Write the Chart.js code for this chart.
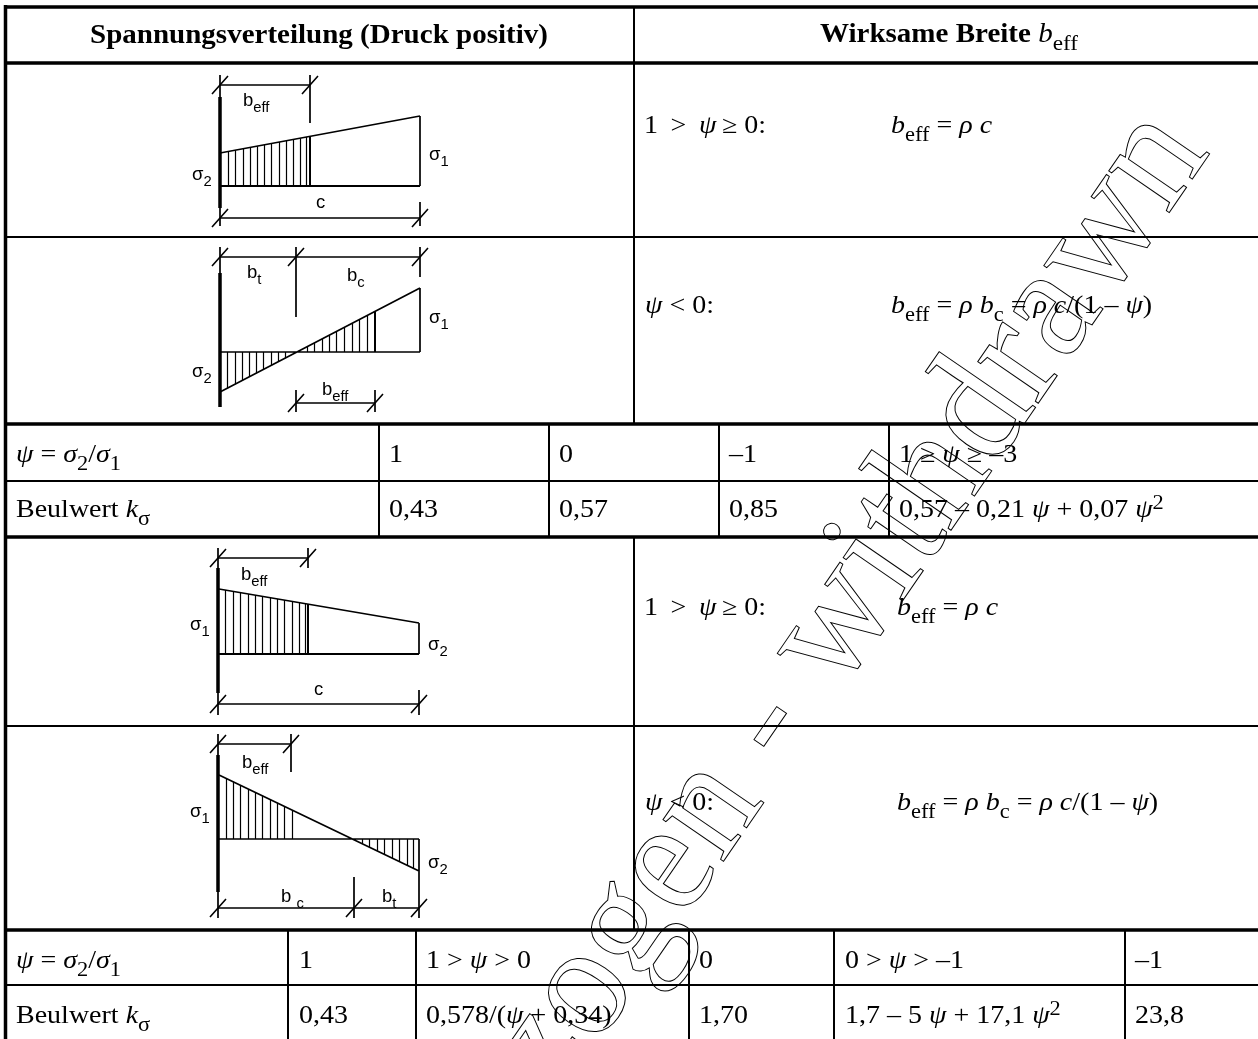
<!DOCTYPE html>
<html>
<head>
<meta charset="utf-8">
<title>Wirksame Breite</title>
<script src="https://cdn.jsdelivr.net/npm/chart.js@4"></script>
<style>
  html, body { margin: 0; padding: 0; background: #fff; overflow: hidden; }
  canvas { display: block; }
</style>
</head>
<body>
<canvas id="chart" width="1258" height="1039"></canvas>
<script>
// table rules, each [x1, y1, x2, y2]
const tableThick = [
  [4, 7, 1258, 7], [4, 63, 1258, 63], [4, 424, 1258, 424], [4, 537, 1258, 537], [4, 930, 1258, 930],
  [5.5, 5, 5.5, 1039],
];
const tableThin = [
  [5, 237, 1258, 237], [5, 481, 1258, 481], [5, 726, 1258, 726], [5, 985, 1258, 985],
  [634, 7, 634, 424], [634, 537, 634, 930],
  [379, 424, 379, 537], [549, 424, 549, 537], [719, 424, 719, 537], [889, 424, 889, 537],
  [288, 930, 288, 1039], [416, 930, 416, 1039], [689, 930, 689, 1039], [834, 930, 834, 1039], [1125, 930, 1125, 1039],
];

// diagram outlines
const diagramBars = [
  [220, 97, 220, 208], [220, 273, 220, 407], [218, 568, 218, 693], [218, 755, 218, 892],
];
const diagramStrong = [
  [220, 186, 420, 186], [310, 137, 310, 186],
  [375, 311, 375, 352],
  [308, 604, 308, 654], [218, 654, 419, 654],
];
const diagramLines = [
  // first diagram
  [220, 153, 420, 116], [420, 116, 420, 186], [220, 85, 310, 85], [310, 75, 310, 123], [220, 75, 220, 97],
  [220, 218, 420, 218], [220, 208, 220, 226], [420, 202, 420, 226],
  // second diagram
  [220, 392, 420, 288], [420, 288, 420, 352], [220, 352, 420, 352], [220, 257, 420, 257], [220, 247, 220, 273],
  [296, 247, 296, 317], [420, 247, 420, 277], [296, 403, 375, 403], [296, 390, 296, 412], [375, 390, 375, 412],
  // third diagram
  [219, 589, 419, 623], [419, 623, 419, 654], [218, 558, 308, 558], [218, 548, 218, 568], [308, 548, 308, 568],
  [218, 704, 419, 704], [218, 693, 218, 715], [419, 690, 419, 715],
  // fourth diagram
  [219, 775, 419, 871], [419, 839, 419, 871], [218, 839, 419, 839], [218, 744, 291, 744], [218, 734, 218, 755],
  [291, 734, 291, 772], [218, 908, 419, 908], [218, 892, 218, 918], [354, 877, 354, 918], [419, 871, 419, 918],
];

// dimension ticks, the little slashes at [x, y]
const dimTicks = [
  [220, 85], [310, 85], [220, 218], [420, 218],
  [220, 257], [296, 257], [420, 257], [296, 403], [375, 403],
  [218, 558], [308, 558], [218, 704], [419, 704],
  [218, 744], [291, 744], [218, 908], [354, 908], [419, 908],
];

// hatching [x, y top or bottom end, baseline y]
const hatchOne = [
  [228, 151.5, 186], [235, 150.2, 186], [243, 148.8, 186], [250, 147.5, 186], [257, 146.2, 186], [264, 144.9, 186],
  [271, 143.6, 186], [279, 142.1, 186], [286, 140.8, 186], [293, 139.5, 186], [300, 138.2, 186], [306, 137, 186],
];
const hatchTwo = [
  [227, 388.4, 352], [235, 384.2, 352], [242, 380.6, 352], [249, 376.9, 352], [256, 373.3, 352], [263, 369.6, 352],
  [271, 365.5, 352], [278, 361.8, 352], [285, 358.2, 352],
  [307, 346.8, 352], [314, 343.1, 352], [322, 339, 352], [329, 335.3, 352], [336, 331.7, 352], [344, 327.5, 352],
  [352, 323.4, 352], [359, 319.7, 352], [367, 315.6, 352],
];
const hatchThree = [
  [225, 590, 654], [233, 591.4, 654], [240, 592.6, 654], [248, 594, 654], [255, 595.1, 654], [262, 596.3, 654],
  [270, 597.7, 654], [277, 598.9, 654], [284, 600.1, 654], [292, 601.4, 654], [299, 602.6, 654], [305, 603.6, 654],
];
const hatchFour = [
  [226, 778.4, 839], [233, 781.7, 839], [240, 785.1, 839], [248, 788.9, 839], [255, 792.3, 839], [262, 795.6, 839],
  [270, 799.5, 839], [277, 802.8, 839], [284, 806.2, 839], [292, 810, 839],
  [362, 843.6, 839], [369, 847, 839], [377, 850.8, 839], [384, 854.2, 839], [392, 858, 839], [399, 861.4, 839],
  [407, 865.2, 839], [413, 868, 839],
];

// diagram labels [x, baseline y, text], _x_ is a subscript
const diagramLabels = [
  [243, 106, "b_eff_"], [316, 208, "c"], [429, 160, "σ_1_"], [192, 180, "σ_2_"],
  [247, 278, "b_t_"], [347, 281, "b_c_"], [429, 323, "σ_1_"], [192, 377, "σ_2_"], [322, 395, "b_eff_"],
  [241, 580, "b_eff_"], [314, 695, "c"], [190, 630, "σ_1_"], [428, 650, "σ_2_"],
  [242, 768, "b_eff_"], [281, 902, "b _c_"], [382, 902, "b_t_"], [190, 817, "σ_1_"], [428, 868, "σ_2_"],
];

// cell texts, *x* is italic, _x_ a subscript, ^x^ a superscript
const headerTexts = [
  [90, 43, "Spannungsverteilung (Druck positiv)"],
  [820, 42, "Wirksame Breite *b*_eff_"],
];
const cellTexts = [
  [644, 133, "1 \u2009> \u2009*ψ*\u2009≥ 0:"], [891, 133, "*b*_eff_ = *ρ c*"],
  [645, 313, "*ψ* < 0:"], [891, 313, "*b*_eff_ = *ρ b*_c_ = *ρ c*/(1 – *ψ*)"],
  [16, 462, "*ψ* = *σ*_2_/*σ*_1_"], [389, 462, "1"], [559, 462, "0"], [729, 462, "–1"], [899, 462, "1 ≥ *ψ* ≥ –3"],
  [16, 517, "Beulwert *k*_σ_"], [389, 517, "0,43"], [559, 517, "0,57"], [729, 517, "0,85"],
  [899, 517, "0,57 – 0,21 *ψ* + 0,07 *ψ*^2^"],
  [644, 615, "1 \u2009> \u2009*ψ*\u2009≥ 0:"], [897, 615, "*b*_eff_ = *ρ c*"],
  [645, 810, "*ψ* < 0:"], [897, 810, "*b*_eff_ = *ρ b*_c_ = *ρ c*/(1 – *ψ*)"],
  [16, 968, "*ψ* = *σ*_2_/*σ*_1_"], [299, 968, "1"], [426, 968, "1 > *ψ* > 0"], [699, 968, "0"],
  [845, 968, "0 > *ψ* > –1"], [1135, 968, "–1"],
  [16, 1023, "Beulwert *k*_σ_"], [299, 1023, "0,43"], [426, 1023, "0,578/(*ψ* + 0,34)"], [699, 1023, "1,70"],
  [845, 1023, "1,7 – 5 *ψ* + 17,1 *ψ*^2^"], [1135, 1023, "23,8"],
];

const watermarkText = "zurückgezogen - withdrawn";
const watermarkEnd = [1211, 152];

const toPoints = (segments) => {
  const points = [];
  segments.forEach(([x1, y1, x2, y2]) => {
    points.push({ x: x1, y: y1 }, { x: x2, y: y2 }, { x: NaN, y: NaN });
  });
  return points;
};

// half pixel so the thin hatch lines stay crisp
const hatchSegments = [...hatchOne, ...hatchTwo, ...hatchThree, ...hatchFour].map(([x, y, base]) => [x + 0.5, y, x + 0.5, base]);
const tickSegments = dimTicks.map(([x, y]) => [x - 8, y + 9, x + 8, y - 9]);

const lineSet = (segments, width) => ({
  data: toPoints(segments),
  showLine: true,
  spanGaps: false,
  borderColor: "#000",
  borderWidth: width,
  pointRadius: 0,
});

// splits the little markup into runs of text
const parseRuns = (text) => {
  const runs = [];
  let italic = false;
  let shift = null;
  let buffer = "";
  const flush = () => {
    if (buffer) runs.push({ text: buffer, italic, shift });
    buffer = "";
  };
  for (const ch of text) {
    if (ch === "*") { flush(); italic = !italic; }
    else if (ch === "_") { flush(); shift = shift ? null : "sub"; }
    else if (ch === "^") { flush(); shift = shift ? null : "sup"; }
    else buffer += ch;
  }
  flush();
  return runs;
};

// stretch widens the glyphs a bit, the original serif is wider than Liberation
const drawRich = (ctx, x, y, text, family, size, weight, stretch) => {
  let pen = 0;
  ctx.save();
  ctx.translate(x, y);
  ctx.scale(stretch, 1);
  parseRuns(text).forEach((run) => {
    const runSize = run.shift ? size * 0.8 : size;
    const offset = run.shift === "sub" ? size * 0.32 : run.shift === "sup" ? -size * 0.32 : 0;
    // math parts of the header are not bold
    const runWeight = run.italic || run.shift ? "normal" : weight;
    ctx.font = `${run.italic ? "italic " : ""}${runWeight} ${runSize}px ${family}`;
    ctx.fillText(run.text, pen, offset);
    pen += ctx.measureText(run.text).width;
  });
  ctx.restore();
};

const textPlugin = {
  id: "tableText",
  afterDatasetsDraw(chart) {
    const { ctx, scales } = chart;
    const px = (v) => scales.x.getPixelForValue(v);
    const py = (v) => scales.y.getPixelForValue(v);
    ctx.save();
    ctx.fillStyle = "#000";
    ctx.textBaseline = "alphabetic";
    ctx.textAlign = "left";
    diagramLabels.forEach(([x, y, t]) => drawRich(ctx, px(x), py(y), t, '"Liberation Sans"', 18.5, "normal", 1));
    cellTexts.forEach(([x, y, t]) => drawRich(ctx, px(x), py(y), t, '"Liberation Serif"', 25, "normal", 1.12));
    headerTexts.forEach(([x, y, t]) => drawRich(ctx, px(x), py(y), t, '"Liberation Serif"', 26.5, "bold", 1.095));

    // outlined watermark on top of everything
    ctx.translate(px(watermarkEnd[0]), py(watermarkEnd[1]));
    ctx.rotate((-55.5 * Math.PI) / 180);
    ctx.scale(0.963, 1);
    ctx.font = '160px "Liberation Serif"';
    ctx.textAlign = "right";
    ctx.lineWidth = 1;
    ctx.strokeStyle = "#000";
    ctx.strokeText(watermarkText, 0, 0);
    ctx.restore();
  },
};

new Chart(document.getElementById("chart"), {
  type: "scatter",
  data: {
    datasets: [
      lineSet(tableThick, 3.5),
      lineSet(tableThin, 2),
      lineSet(diagramBars, 3.5),
      lineSet(diagramStrong, 2),
      lineSet(diagramLines, 1.7),
      lineSet(tickSegments, 1.6),
      lineSet(hatchSegments, 1.2),
    ],
  },
  options: {
    responsive: false,
    animation: false,
    layout: { padding: 0 },
    plugins: { legend: { display: false }, tooltip: { enabled: false } },
    scales: {
      x: { type: "linear", min: 0, max: 1258, display: false },
      y: { type: "linear", min: 0, max: 1039, reverse: true, display: false },
    },
  },
  plugins: [textPlugin],
});
</script>
</body>
</html>
